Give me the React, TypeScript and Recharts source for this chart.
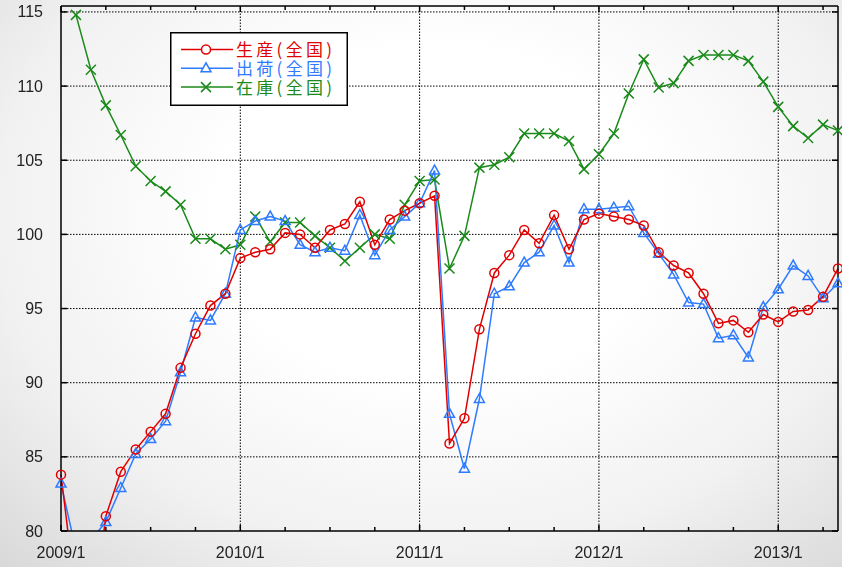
import { LineChart, Line, XAxis, YAxis, ReferenceLine } from 'recharts';

// monthly index values, 2009/1 .. 2013/5
const yearLabels = ['2009/1', '2010/1', '2011/1', '2012/1', '2013/1'];

const production = [
  83.8, 75.5, 73.0, 81.0, 84.0, 85.5, 86.7, 87.9, 91.0, 93.3, 95.2, 96.0,
  98.4, 98.8, 99.0, 100.1, 100.0, 99.1, 100.3, 100.7, 102.2, 99.3, 101.0, 101.6,
  102.1, 102.6, 85.9, 87.6, 93.6, 97.4, 98.6, 100.3, 99.4, 101.3, 99.0, 101.0,
  101.4, 101.2, 101.0, 100.6, 98.8, 97.9, 97.4, 96.0, 94.0, 94.2, 93.4, 94.6,
  94.1, 94.8, 94.9, 95.8, 97.7,
];

const shipments = [
  83.2, 78.7, 79.4, 80.6, 82.9, 85.2, 86.2, 87.4, 90.7, 94.4, 94.2, 96.0,
  100.3, 100.9, 101.2, 100.9, 99.3, 98.8, 99.1, 98.9, 101.3, 98.6, 100.3, 101.2,
  102.1, 104.3, 87.9, 84.2, 88.9, 96.0, 96.5, 98.1, 98.8, 100.6, 98.1, 101.7,
  101.7, 101.8, 101.9, 100.1, 98.7, 97.3, 95.4, 95.3, 93.0, 93.2, 91.7, 95.1,
  96.3, 97.9, 97.2, 95.7, 96.7,
];

const inventory = [
  null, 114.8, 111.1, 108.7, 106.7, 104.6, 103.6, 102.9, 102.0, 99.7, 99.7, 99.0,
  99.3, 101.2, 99.5, 100.8, 100.8, 99.9, 99.1, 98.2, 99.1, 100.0, 99.7, 102.0,
  103.6, 103.7, 97.7, 99.9, 104.5, 104.7, 105.2, 106.8, 106.8, 106.8, 106.3, 104.4,
  105.4, 106.8, 109.5, 111.8, 109.9, 110.2, 111.7, 112.1, 112.1, 112.1, 111.7, 110.3,
  108.6, 107.3, 106.5, 107.4, 107.0,
];

const xTicks = [0, 3, 6, 9, 12, 15, 18, 21, 24, 27, 30, 33, 36, 39, 42, 45, 48, 51];
const yearTicks = [12, 24, 36, 48];
const yTicks = [80, 85, 90, 95, 100, 105, 110, 115];
const gridY = [85, 90, 95, 100, 105, 110, 115];

const data = production.map((v, i) => ({
  m: i,
  production: v,
  shipments: shipments[i],
  inventory: inventory[i],
}));

const RED = '#e00000';
const BLUE = '#2f7bff';
const GREEN = '#1a8a1a';
const JP_FONT = '"Noto Sans CJK JP", sans-serif';
const NUM_FONT = '"Liberation Sans", Arial, sans-serif';

const BottomTick = ({ x, y, payload }: any) => {
  const v = payload.value;
  const major = v % 12 === 0;
  return (
    <g>
      <line x1={x} x2={x} y1={y} y2={y - (major ? 6 : 4)} stroke="#000" strokeWidth={1.5} />
      {major && (
        <text x={x} y={y + 27} textAnchor="middle" fontSize={16} fill="#222" fontFamily={NUM_FONT}>
          {yearLabels[v / 12]}
        </text>
      )}
    </g>
  );
};

const TopTick = ({ x, y, payload }: any) => {
  const major = payload.value % 12 === 0;
  return <line x1={x} x2={x} y1={y} y2={y + (major ? 6 : 4)} stroke="#000" strokeWidth={1.5} />;
};

const LeftTick = ({ x, y, payload }: any) => (
  <g>
    <line x1={x} x2={x + 6} y1={y} y2={y} stroke="#000" strokeWidth={1.5} />
    <text x={x - 18} y={y + 5.5} textAnchor="end" fontSize={16} fill="#222" fontFamily={NUM_FONT}>
      {payload.value}
    </text>
  </g>
);

const RightTick = ({ x, y }: any) => (
  <line x1={x} x2={x - 6} y1={y} y2={y} stroke="#000" strokeWidth={1.5} />
);

const circleDot = (p: any) =>
  p.cy == null ? <g key={p.index} /> : (
    <circle key={p.index} cx={p.cx} cy={p.cy} r={4.5} fill="none" stroke={RED} strokeWidth={1.5} />
  );

const triDot = (p: any) =>
  p.cy == null ? <g key={p.index} /> : (
    <path
      key={p.index}
      d={`M${p.cx},${p.cy - 5.5} L${p.cx - 5},${p.cy + 3.5} L${p.cx + 5},${p.cy + 3.5} Z`}
      fill="none"
      stroke={BLUE}
      strokeWidth={1.5}
    />
  );

const crossDot = (p: any) =>
  p.cy == null ? <g key={p.index} /> : (
    <path
      key={p.index}
      d={`M${p.cx - 5},${p.cy - 5} L${p.cx + 5},${p.cy + 5} M${p.cx - 5},${p.cy + 5} L${p.cx + 5},${p.cy - 5}`}
      stroke={GREEN}
      strokeWidth={1.5}
    />
  );

const legendItems = [
  { label: '生産(全国)', color: RED, kind: 'circle' },
  { label: '出荷(全国)', color: BLUE, kind: 'tri' },
  { label: '在庫(全国)', color: GREEN, kind: 'cross' },
];

function ChartLegend() {
  return (
    <svg
      width={178}
      height={74}
      style={{ position: 'absolute', left: 170, top: 32, background: '#fff', pointerEvents: 'none' }}
    >
      <rect x={0.75} y={0.75} width={176.5} height={72.5} fill="#fff" stroke="#000" strokeWidth={1.5} />
      {legendItems.map((it, i) => {
        const cy = 17.5 + i * 18.8;
        const cx = 36;
        return (
          <g key={it.label}>
            <line x1={11} x2={63} y1={cy} y2={cy} stroke={it.color} strokeWidth={1.5} />
            {it.kind === 'circle' && <circle cx={cx} cy={cy} r={4.5} fill="#fff" stroke={it.color} strokeWidth={1.5} />}
            {it.kind === 'tri' && (
              <path d={`M${cx},${cy - 5.5} L${cx - 5},${cy + 3.5} L${cx + 5},${cy + 3.5} Z`} fill="#fff" stroke={it.color} strokeWidth={1.5} />
            )}
            {it.kind === 'cross' && (
              <path d={`M${cx - 5},${cy - 5} L${cx + 5},${cy + 5} M${cx - 5},${cy + 5} L${cx + 5},${cy - 5}`} stroke={it.color} strokeWidth={1.5} />
            )}
            <text
              x={66}
              y={cy + 6.5}
              fontSize={17}
              fill={it.color}
              fontFamily={JP_FONT}
              textLength={96}
              lengthAdjust="spacing"
            >
              {it.label}
            </text>
          </g>
        );
      })}
    </svg>
  );
}

export default function App() {
  return (
    <div
      style={{
        position: 'fixed',
        left: 0,
        top: 0,
        width: 842,
        height: 567,
        background: 'radial-gradient(ellipse 75% 85% at 52% 38%, #ffffff 35%, #f1f1f1 70%, #d9d9d9 100%)',
      }}
    >
      <LineChart width={842} height={567} data={data} margin={{ top: 0, right: 0, bottom: 0, left: 0 }}>
        <XAxis
          xAxisId="bottom"
          dataKey="m"
          type="number"
          domain={[0, 52]}
          ticks={xTicks}
          interval={0}
          height={36}
          tickSize={0}
          tickMargin={0}
          tickLine={false}
          axisLine={{ stroke: '#000', strokeWidth: 1.5 }}
          tick={<BottomTick />}
        />
        <XAxis
          xAxisId="top"
          orientation="top"
          dataKey="m"
          type="number"
          domain={[0, 52]}
          ticks={xTicks}
          interval={0}
          height={6}
          tickSize={0}
          tickMargin={0}
          tickLine={false}
          axisLine={{ stroke: '#000', strokeWidth: 1.5 }}
          tick={<TopTick />}
        />
        <YAxis
          yAxisId="left"
          type="number"
          domain={[80, 115.4]}
          ticks={yTicks}
          interval={0}
          allowDataOverflow
          width={61}
          tickSize={0}
          tickMargin={0}
          tickLine={false}
          axisLine={{ stroke: '#000', strokeWidth: 1.5 }}
          tick={<LeftTick />}
        />
        <YAxis
          yAxisId="right"
          orientation="right"
          type="number"
          domain={[80, 115.4]}
          ticks={yTicks}
          interval={0}
          allowDataOverflow
          width={4}
          tickSize={0}
          tickMargin={0}
          tickLine={false}
          axisLine={{ stroke: '#000', strokeWidth: 1.5 }}
          tick={<RightTick />}
        />
        {yearTicks.map(t => (
          <ReferenceLine key={`vx${t}`} xAxisId="bottom" yAxisId="left" x={t} stroke="#000" strokeWidth={1} strokeDasharray="1.5 1.5" />
        ))}
        {gridY.map(v => (
          <ReferenceLine key={`hy${v}`} xAxisId="bottom" yAxisId="left" y={v} stroke="#000" strokeWidth={1} strokeDasharray="1.5 1.5" />
        ))}
        <Line
          xAxisId="bottom"
          yAxisId="left"
          type="linear"
          dataKey="inventory"
          stroke={GREEN}
          strokeWidth={1.5}
          dot={crossDot}
          activeDot={false}
          isAnimationActive={false}
        />
        <Line
          xAxisId="bottom"
          yAxisId="left"
          type="linear"
          dataKey="shipments"
          stroke={BLUE}
          strokeWidth={1.5}
          dot={triDot}
          activeDot={false}
          isAnimationActive={false}
        />
        <Line
          xAxisId="bottom"
          yAxisId="left"
          type="linear"
          dataKey="production"
          stroke={RED}
          strokeWidth={1.5}
          dot={circleDot}
          activeDot={false}
          isAnimationActive={false}
        />
      </LineChart>
      <ChartLegend />
    </div>
  );
}
